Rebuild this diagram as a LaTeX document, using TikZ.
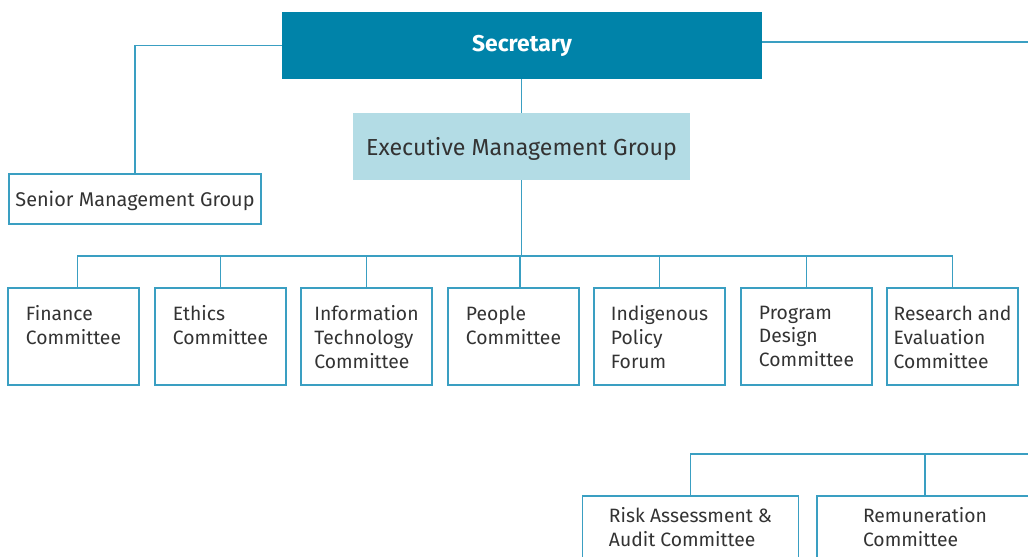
\documentclass[tikz,border=0pt]{standalone}
\usepackage{fontspec}
\setmainfont{Fira Sans}
\usepackage{tikz}

\definecolor{secblue}{HTML}{0083A9}
\definecolor{linkblue}{HTML}{3A9FC2}
\definecolor{emgblue}{HTML}{B3DCE5}
\definecolor{textgrey}{HTML}{333333}

\tikzset{
  link/.style={draw=linkblue, line width=0.7pt},
  unitbox/.style={draw=linkblue, line width=0.8pt, fill=white, inner sep=0pt,
    minimum width=2.62cm, minimum height=1.94cm},
  unittext/.style={anchor=north, align=left, inner sep=0pt, text=textgrey,
    font=\fontsize{11}{13.6}\selectfont, execute at begin node=\strut},
  lowbox/.style={unitbox, minimum width=4.32cm, minimum height=2cm}
}

\begin{document}
\begin{tikzpicture}[x=0.02cm,y=-0.02cm]

\useasboundingbox (0,0) rectangle (1028,557);
\clip (0,0) rectangle (1028,557);

% Draw top of the chart

\node[fill=secblue, text=white, minimum width=9.6cm, minimum height=1.34cm,
  font=\fontsize{13}{15}\selectfont\bfseries] (sec) at (522,45.5) {Secretary};

\node[fill=emgblue, text=textgrey, minimum width=6.74cm, minimum height=1.34cm,
  text depth=0pt, font=\fontsize{13.2}{15}\selectfont] (emg) at (521.5,146.5) {Executive Management Group};

\node[unitbox, minimum width=5.04cm, minimum height=1cm, text depth=0pt,
  font=\fontsize{11.3}{13.6}\selectfont, text=textgrey] (smg) at (135,199) {Senior Management Group};

% Draw committees

\node[unitbox] (fin) at (73.5,336.5) {};
\node[unitbox] (eth) at (220.5,336.5) {};
\node[unitbox] (itc) at (366.5,336.5) {};
\node[unitbox] (ppl) at (513.5,336.5) {};
\node[unitbox] (ipf) at (659.5,336.5) {};
\node[unitbox] (pdc) at (806.5,336.5) {};
\node[unitbox] (rec) at (952.5,336.5) {};

\node[unittext] (fintext) at ([yshift=-10.3pt]fin.north) {Finance\\Committee};
\node[unittext] (ethtext) at ([yshift=-10.3pt]eth.north) {Ethics\\Committee};
\node[unittext] (itctext) at ([yshift=-10.3pt]itc.north) {Information\\Technology\\Committee};
\node[unittext] (ppltext) at ([yshift=-10.3pt]ppl.north) {People\\Committee};
\node[unittext] (ipftext) at ([yshift=-10.3pt]ipf.north) {Indigenous\\Policy\\Forum};
\node[unittext] (pdctext) at ([yshift=-10.3pt]pdc.north) {Program\\Design\\Committee};
\node[unittext] (rectext) at ([yshift=-10.3pt]rec.north) {Research and\\Evaluation\\Committee};

% Draw audit and remuneration

\node[lowbox] (rac) at (690.5,546) {};
\node[lowbox] (rem) at (925,546) {};

\node[unittext] (ractext) at ([yshift=-6.7pt]rac.north) {Risk Assessment \&\\Audit Committee};
\node[unittext] (remtext) at ([yshift=-6.7pt]rem.north) {Remuneration\\Committee};

% Draw links

\coordinate (offright) at (1030,42);
\coordinate (bus) at (520,256);
\coordinate (lowbus) at (1030,454);

\draw[link] (sec.west) -| (smg.north);
\draw[link, line width=1.1pt] (sec.east |- offright) -- (offright);
\draw[link] (sec.south -| emg.north) -- (emg.north);
\draw[link] (emg.south) -- (emg.south |- bus);

\draw[link] ([xshift=0.08cm]fin.north) |- (bus) -| (rec.north);
\foreach \u in {eth,itc,ipf,pdc}
  \draw[link] (\u.north) -- (\u.north |- bus);
\draw[link] (bus) -- (bus |- ppl.north);

\draw[link] (lowbus) -| (rac.north);
\draw[link] (rem.north) -- (rem.north |- lowbus);

\end{tikzpicture}
\end{document}
